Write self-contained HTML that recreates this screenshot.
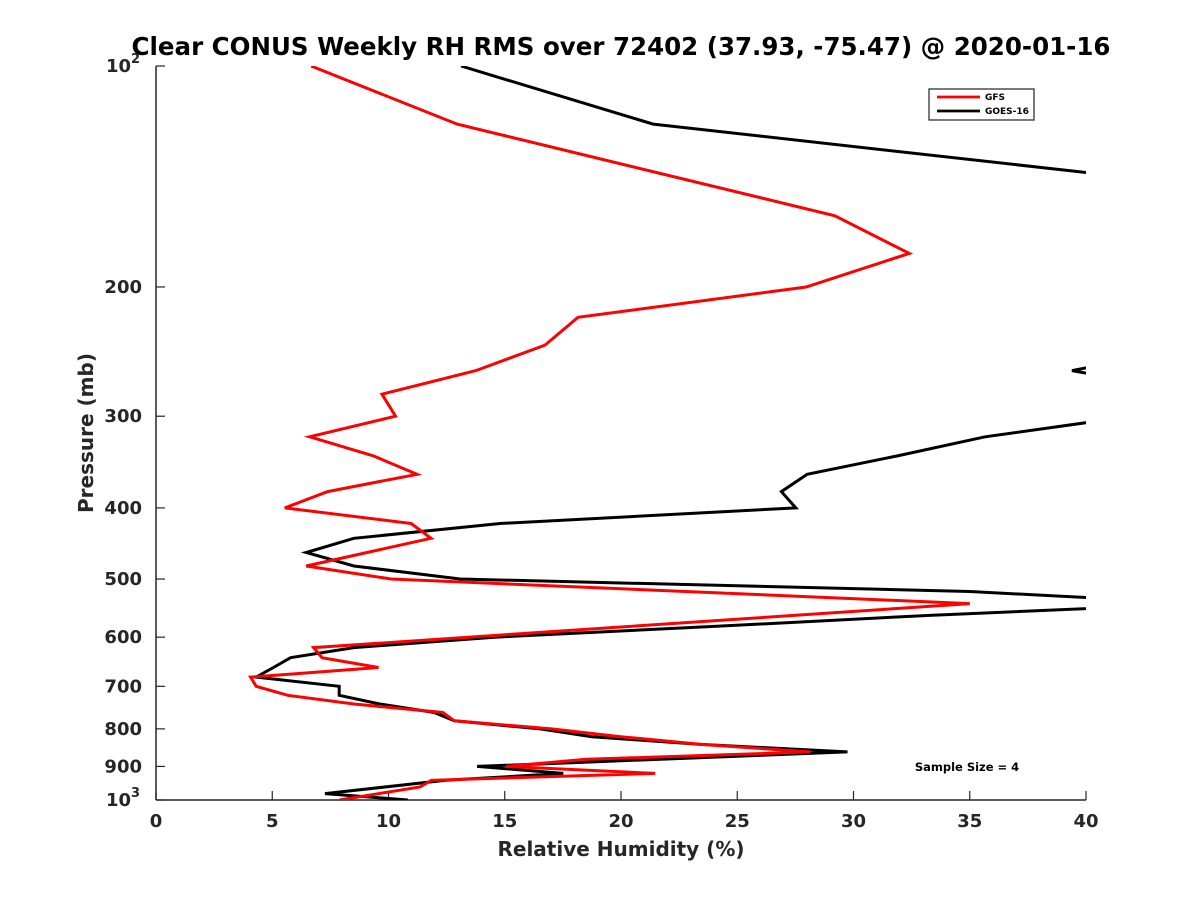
<!DOCTYPE html>
<html><head><meta charset="utf-8"><style>
body{margin:0;background:#fff;}
svg{display:block;font-family:"DejaVu Sans","Liberation Sans",sans-serif;}
</style></head><body>
<svg id="chart" width="1200" height="900" viewBox="0 0 1200 900">
<defs><clipPath id="clip"><rect x="156" y="66" width="930" height="734"/></clipPath></defs>
<rect width="1200" height="900" fill="#fff"/>
<text x="621" y="55" text-anchor="middle" font-size="24.5" font-weight="bold" fill="#000">Clear CONUS Weekly RH RMS over 72402 (37.93, -75.47) @ 2020-01-16</text>
<g id="axes"></g>
<g id="series" clip-path="url(#clip)"></g>
<g>
<rect x="929" y="89" width="105" height="31" fill="#fff" stroke="#222" stroke-width="1.2"/>
<line x1="937" y1="97" x2="980" y2="97" stroke="#f00" stroke-width="2.8"/>
<text x="985" y="100" font-size="9" font-weight="bold">GFS</text>
<line x1="937" y1="111" x2="980" y2="111" stroke="#000" stroke-width="2.8"/>
<text x="985" y="114" font-size="9" font-weight="bold">GOES-16</text>
</g>
<text x="967" y="771" text-anchor="middle" font-size="11.5" font-weight="bold">Sample Size = 4</text>
<text x="621" y="856" text-anchor="middle" font-size="20" font-weight="bold" fill="#262626">Relative Humidity (%)</text>
<text transform="translate(93,433) rotate(-90)" text-anchor="middle" font-size="20" font-weight="bold" fill="#262626">Pressure (mb)</text>
</svg>
<script>
const gfsP = [100,120,160,180,200,220,240,260,280,300,320,340,360,380,400,420,440,480,500,540,620,640,660,680,700,720,740,760,780,800,820,840,860,880,900,920,940,960,1000];
const gfsRH = [6.67,12.95,29.2,32.4,27.96,18.15,16.73,13.76,9.72,10.3,6.61,9.37,11.23,7.38,5.54,10.97,11.83,6.46,10.11,35.0,6.78,7.14,9.57,4.07,4.31,5.67,8.51,12.34,12.83,17.01,19.99,23.44,28.13,18.51,15.05,21.47,11.84,11.35,7.89];
const goesP = [100,120,140,160,200,240,260,280,300,320,340,360,380,400,420,440,460,480,500,520,540,560,580,600,620,640,660,680,700,720,740,760,780,800,820,840,860,900,920,940,980,1000];
const goesRH = [13.12,21.38,40.3,60,60,45,39.4,45,42,35.66,31.84,28.01,26.9,27.52,14.8,8.51,6.46,8.51,13.08,35,45,33.4,24,14.55,8.51,5.79,5.05,4.31,7.88,7.88,9.62,11.97,12.83,16.53,18.75,23.44,29.74,13.81,17.52,12.46,7.27,10.83];
const xTicks = [0,5,10,15,20,25,30,35,40];
const yTicks = [100,200,300,400,500,600,700,800,900,1000];
const yTickLabels = ["10²","200","300","400","500","600","700","800","900","10³"];

const X0=156,X1=1086,Y0=66,Y1=800;
const xs = v => X0 + (v-0)/(40-0)*(X1-X0);
const ys = p => Y0 + Math.log10(p/100)*(Y1-Y0);
const NS="http://www.w3.org/2000/svg";
function mk(tag, attrs, parent){const e=document.createElementNS(NS,tag);for(const k in attrs)e.setAttribute(k,attrs[k]);parent.appendChild(e);return e;}
const axes=document.getElementById('axes');
const series=document.getElementById('series');

const yAxis=mk('line',{x1:X0,y1:Y0,x2:X0,y2:Y1,stroke:'#262626','stroke-width':1.5},axes);


const xAxis=mk('line',{x1:X0,y1:Y1,x2:X1,y2:Y1,stroke:'#262626','stroke-width':1.5},axes);



xTicks.forEach((t)=>{
  const x=xs(t);
  const tk=mk('line',{x1:x,y1:Y1,x2:x,y2:Y1-9,stroke:'#262626','stroke-width':1.2},axes);
  
  
  const lb=mk('text',{x:x,y:Y1+27,'text-anchor':'middle','font-size':18,'font-weight':'bold',fill:'#262626'},axes);
  lb.textContent=String(t);
  
  
});
yTicks.forEach((t,i)=>{
  const y=ys(t);
  const tk=mk('line',{x1:X0,y1:y,x2:X0+9,y2:y,stroke:'#262626','stroke-width':1.2},axes);
  
  
  const lab=yTickLabels[i];
  const lb=mk('text',{x:X0-14,y:y+6,'text-anchor':'end','font-size':18,'font-weight':'bold',fill:'#262626'},axes);
  if(lab.length===3 && (lab[2]==='²'||lab[2]==='³')){
    lb.textContent='10';
    lb.setAttribute('x',X0-25);
    const sp=mk('text',{x:X0-25,y:y-3,'font-size':13,'font-weight':'bold',fill:'#262626'},axes);
    sp.textContent=lab[2]==='²'?'2':'3';
    
    
  } else lb.textContent=lab;
  
  
});

function drawLine(P,V,color,name){
  const pts=P.map((p,i)=>xs(V[i]).toFixed(1)+','+ys(p).toFixed(1)).join(' ');
  const pl=mk('polyline',{points:pts,fill:'none',stroke:color,'stroke-width':3,'stroke-linejoin':'miter'},series);
  
  
}
drawLine(goesP,goesRH,'#000','goes16-line');
drawLine(gfsP,gfsRH,'#f00','gfs-line');
</script>
</body></html>
